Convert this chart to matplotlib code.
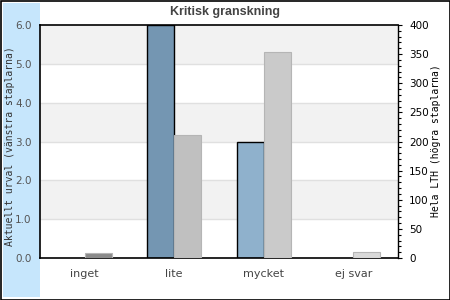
import matplotlib
matplotlib.use('Agg')
import matplotlib.pyplot as plt
from matplotlib.patches import Rectangle
from matplotlib.ticker import MultipleLocator

# Data
kategorier = ['inget', 'lite', 'mycket', 'ej svar']
urval = [0, 6, 3, 0]            # vänstra staplarna
hela_lth = [8, 211, 354, 10]    # högra staplarna
farg_urval = ['#7496b2', '#7496b2', '#8fb1cc', '#8fb1cc']
farg_lth = ['#8a8a8a', '#c0c0c0', '#cacaca', '#d9d9d9']
vanster_ticks = [0, 1, 2, 3, 4, 5, 6]

fig = plt.figure(figsize=(4.5, 3), dpi=100)

# Ram och blått fält till vänster (bakom axlarna)
fig.patches.append(Rectangle((0.5 / 450, 0.5 / 300), 449 / 450, 299 / 300, transform=fig.transFigure,
                             fill=False, edgecolor='black', linewidth=1.2, zorder=-2))
fig.patches.append(Rectangle((3 / 450, 3 / 300), 37 / 450, 294 / 300, transform=fig.transFigure,
                             facecolor='#c6e6fc', edgecolor='none', zorder=-2))

ax = fig.add_axes([40 / 450, 42 / 300, 358 / 450, 233 / 300])
ax.set_xlim(-0.5, len(kategorier) - 0.5)
ax.set_ylim(0, 6)

# Randiga bakgrundsband + gridlinjer
for i in range(len(vanster_ticks) - 1):
    if i % 2 == 1:
        ax.axhspan(vanster_ticks[i], vanster_ticks[i + 1], color='#f2f2f2', zorder=0, linewidth=0)
for t in vanster_ticks[1:-1]:
    ax.axhline(t, color='#e0e0e0', linewidth=1, zorder=0.5)

x = list(range(len(kategorier)))
bredd = 0.3
for xi, v, c in zip(x, urval, farg_urval):
    if v > 0:
        ax.bar(xi - bredd / 2, v, width=bredd, color=c, edgecolor='black', linewidth=1, zorder=2)

ax.set_yticks(vanster_ticks)
ax.set_yticklabels([f'{t:.1f}' for t in vanster_ticks])
ax.tick_params(axis='y', length=0, pad=6, labelsize=7.5, labelcolor='#555555')
ax.set_xticks(x)
ax.set_xticklabels(kategorier)
ax.tick_params(axis='x', length=0, pad=8, labelsize=8, labelcolor='#444444')
for s in ['left', 'bottom', 'top']:
    ax.spines[s].set_color('black')
    ax.spines[s].set_linewidth(1.2)
ax.spines['right'].set_visible(False)

ax2 = ax.twinx()
ax2.set_ylim(0, 400)
for xi, v, c in zip(x, hela_lth, farg_lth):
    ax2.bar(xi + bredd / 2, v, width=bredd, color=c, edgecolor='#b5b5b5', linewidth=0.8, zorder=2)
ax2.yaxis.set_major_locator(MultipleLocator(50))
ax2.yaxis.set_minor_locator(MultipleLocator(10))
ax2.tick_params(axis='y', which='major', length=3, width=0.8, pad=5, labelsize=7.5, colors='black')
ax2.tick_params(axis='y', which='minor', length=2, width=0.8, colors='black')
for s in ['left', 'bottom', 'top']:
    ax2.spines[s].set_visible(False)
ax2.spines['right'].set_color('black')
ax2.spines['right'].set_linewidth(1)

fig.text(225 / 450, 1 - 12 / 300, 'Kritisk granskning', ha='center', va='center',
         fontsize=9, fontweight='bold', color='#444444', family='Liberation Sans')
fig.text(10 / 450, 1 - 146 / 300, 'Aktuellt urval (vänstra staplarna)', rotation=90,
         ha='center', va='center', fontsize=7, family='DejaVu Sans Mono', color='#333333')
fig.text(436 / 450, 1 - 141 / 300, 'Hela LTH (högra staplarna)', rotation=90,
         ha='center', va='center', fontsize=7, family='DejaVu Sans Mono', color='black')

fig.savefig('out.png', dpi=100, facecolor='white')
